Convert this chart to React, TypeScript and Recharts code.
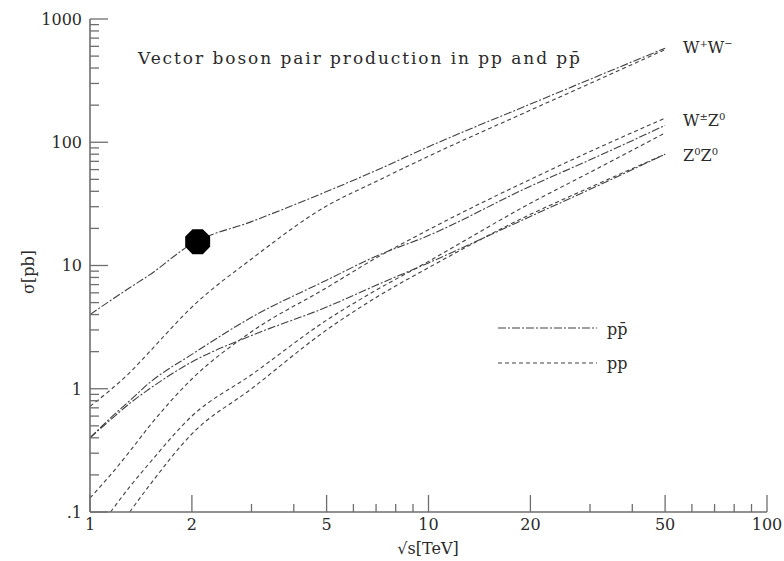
import React from "react";
import { ComposedChart, Line, Scatter, XAxis, YAxis } from "recharts";

// sqrt(s) in TeV, shared by every curve
const energies = [1, 1.15, 1.31, 1.5, 2, 3, 5, 7, 10, 20, 30, 50];

// cross sections in pb; null where the curve is still below the frame
const wwPpbar = [4.0, 5.2, 6.6, 8.4, 15.0, 22.7, 39.8, 59, 92, 204, 324, 580];
const wwPp = [0.72, 0.98, 1.35, 2.0, 4.6, 11.3, 30.4, 48, 77, 182, 300, 565];
const wzPpbar = [0.4, 0.58, 0.8, 1.12, 1.9, 3.8, 7.6, 11.9, 17.5, 44, 72, 137];
const wzPpUpper = [0.13, 0.2, 0.31, 0.5, 1.2, 2.9, 6.6, 11.5, 19.5, 50, 84, 157];
const wzPpLower = [null, 0.1, 0.16, 0.25, 0.6, 1.3, 3.6, 6.3, 10.8, 32, 57, 119];
const zzPpbar = [0.4, 0.56, 0.76, 1.0, 1.65, 2.7, 4.6, 6.9, 10.5, 25, 41.5, 80];
const zzPp = [null, null, 0.1, 0.165, 0.43, 1.0, 3.0, 5.5, 9.6, 26, 43, 80];

// single highlighted point on the W+W- (p pbar) curve
const markerPoint = [{ e: 2.08, sigma: 15.6 }];

const xMajorTicks = [1, 2, 5, 10, 20, 50, 100];
const xTickLabels = ["1", "2", "5", "10", "20", "50", "100"];
const xMinorTicks = [3, 4, 6, 7, 8, 9, 30, 40, 60, 70, 80, 90];

const yMajorTicks = [0.1, 1, 10, 100, 1000];
const yTickLabels = [".1", "1", "10", "100", "1000"];
const yMinorTicks = [
  0.2, 0.3, 0.4, 0.5, 0.6, 0.7, 0.8, 0.9,
  2, 3, 4, 5, 6, 7, 8, 9,
  20, 30, 40, 50, 60, 70, 80, 90,
  200, 300, 400, 500, 600, 700, 800, 900,
];

const AXIS = "#6e6e6e";
const INK = "#2a2a2a";
const CURVE = "#404040";
const FONT = "'DejaVu Serif', 'Liberation Serif', serif";
const PPBAR_DASH = "8 2 2 2";
const PP_DASH = "4 3";

const curves = [
  { key: "wwPpbar", values: wwPpbar, dash: PPBAR_DASH },
  { key: "wwPp", values: wwPp, dash: PP_DASH },
  { key: "wzPpbar", values: wzPpbar, dash: PPBAR_DASH },
  { key: "wzPpUpper", values: wzPpUpper, dash: PP_DASH },
  { key: "wzPpLower", values: wzPpLower, dash: PP_DASH },
  { key: "zzPpbar", values: zzPpbar, dash: PPBAR_DASH },
  { key: "zzPp", values: zzPp, dash: PP_DASH },
];

function toPoints(values: (number | null)[]) {
  return energies
    .map((e, i) => ({ e, sigma: values[i] }))
    .filter((p) => p.sigma != null);
}

const allX = [...xMajorTicks, ...xMinorTicks];
const allY = [...yMajorTicks, ...yMinorTicks];

function BottomTick({ x, y, payload }: any) {
  const i = xMajorTicks.indexOf(payload.value);
  return (
    <g>
      <line x1={x} x2={x} y1={y} y2={y - (i >= 0 ? 17 : 8)} stroke={AXIS} strokeWidth={1.3} />
      {i >= 0 && (
        <text x={x} y={y + 18} textAnchor="middle" fontFamily={FONT} fontSize={16} fill={INK}>
          {xTickLabels[i]}
        </text>
      )}
    </g>
  );
}

function TopTick({ x, y, payload }: any) {
  const major = xMajorTicks.includes(payload.value);
  return <line x1={x} x2={x} y1={y} y2={y + (major ? 17 : 8)} stroke={AXIS} strokeWidth={1.3} />;
}

function LeftTick({ x, y, payload }: any) {
  const i = yMajorTicks.indexOf(payload.value);
  return (
    <g>
      <line x1={x} x2={x + (i >= 0 ? 18 : 9)} y1={y} y2={y} stroke={AXIS} strokeWidth={1.3} />
      {i >= 0 && (
        <text x={x - 8} y={y} dy="0.36em" textAnchor="end" fontFamily={FONT} fontSize={16} fill={INK}>
          {yTickLabels[i]}
        </text>
      )}
    </g>
  );
}

function RightTick({ x, y, payload }: any) {
  const major = yMajorTicks.includes(payload.value);
  return <line x1={x} x2={x - (major ? 18 : 9)} y1={y} y2={y} stroke={AXIS} strokeWidth={1.3} />;
}

// filled stop-sign shaped marker
function Octagon({ cx, cy }: any) {
  const r = 13.5;
  const pts = Array.from({ length: 8 }, (_, k) => {
    const a = (Math.PI / 4) * k + Math.PI / 8;
    return `${cx + r * Math.cos(a)},${cy + r * Math.sin(a)}`;
  }).join(" ");
  return <polygon points={pts} fill="#000" />;
}

function Sup({ children }: { children: React.ReactNode }) {
  return (
    <tspan dy={-6} fontSize={10}>
      {children}
    </tspan>
  );
}

function Annotations() {
  const t = { fontFamily: FONT, fill: INK } as const;
  return (
    <svg
      width={784}
      height={561}
      style={{ position: "absolute", left: 0, top: 0, pointerEvents: "none" }}
    >
      <text {...t} x={138} y={64} fontSize={17} textLength={442} lengthAdjust="spacing">
        Vector boson pair production in pp and pp̄
      </text>

      <text {...t} x={683} y={53} fontSize={16}>
        W<Sup>+</Sup>
        <tspan dy={6}>W</tspan>
        <Sup>−</Sup>
      </text>
      <text {...t} x={683} y={126} fontSize={16}>
        W<Sup>±</Sup>
        <tspan dy={6}>Z</tspan>
        <Sup>0</Sup>
      </text>
      <text {...t} x={683} y={161} fontSize={16}>
        Z<Sup>0</Sup>
        <tspan dy={6}>Z</tspan>
        <Sup>0</Sup>
      </text>

      <line x1={498} x2={597} y1={328} y2={328} stroke={CURVE} strokeWidth={1.1} strokeDasharray={PPBAR_DASH} />
      <text {...t} x={607} y={335} fontSize={16}>
        pp̄
      </text>
      <line x1={498} x2={597} y1={363} y2={363} stroke={CURVE} strokeWidth={1.1} strokeDasharray={PP_DASH} />
      <text {...t} x={607} y={369} fontSize={16}>
        pp
      </text>

      <text {...t} x={428} y={554} fontSize={16} textAnchor="middle">
        √s[TeV]
      </text>
      <text {...t} x={0} y={0} fontSize={16} textAnchor="middle" transform="translate(34 272) rotate(-90)">
        σ[pb]
      </text>
    </svg>
  );
}

export default function App() {
  return (
    <div
      style={{
        position: "absolute",
        left: 0,
        top: 0,
        width: 784,
        height: 561,
        overflow: "hidden",
        background: "#fff",
      }}
    >
      <ComposedChart width={784} height={561} margin={{ top: 19, right: 17, bottom: 0, left: 30 }}>
        <XAxis
          dataKey="e"
          type="number"
          scale="log"
          domain={[1, 100]}
          allowDataOverflow
          ticks={allX}
          interval={0}
          height={49}
          tickSize={0}
          tickMargin={0}
          tickLine={false}
          tick={<BottomTick />}
          axisLine={{ stroke: AXIS, strokeWidth: 1.6 }}
        />
        <XAxis
          xAxisId="top"
          orientation="top"
          type="number"
          scale="log"
          domain={[1, 100]}
          allowDataOverflow
          ticks={allX}
          interval={0}
          height={0}
          tickSize={0}
          tickMargin={0}
          tickLine={false}
          tick={<TopTick />}
          axisLine={{ stroke: AXIS, strokeWidth: 1.6 }}
        />
        <YAxis
          dataKey="sigma"
          type="number"
          scale="log"
          domain={[0.1, 1000]}
          allowDataOverflow
          ticks={allY}
          interval={0}
          width={60}
          tickSize={0}
          tickMargin={0}
          tickLine={false}
          tick={<LeftTick />}
          axisLine={{ stroke: AXIS, strokeWidth: 1.6 }}
        />
        <YAxis
          yAxisId="right"
          orientation="right"
          type="number"
          scale="log"
          domain={[0.1, 1000]}
          allowDataOverflow
          ticks={allY}
          interval={0}
          width={0}
          tickSize={0}
          tickMargin={0}
          tickLine={false}
          tick={<RightTick />}
          axisLine={{ stroke: AXIS, strokeWidth: 1.6 }}
        />
        {curves.map((c) => (
          <Line
            key={c.key}
            data={toPoints(c.values)}
            dataKey="sigma"
            type="monotone"
            stroke={CURVE}
            strokeWidth={1.1}
            strokeDasharray={c.dash}
            dot={false}
            activeDot={false}
            isAnimationActive={false}
          />
        ))}
        <Scatter data={markerPoint} dataKey="sigma" shape={<Octagon />} isAnimationActive={false} />
      </ComposedChart>
      <Annotations />
    </div>
  );
}
